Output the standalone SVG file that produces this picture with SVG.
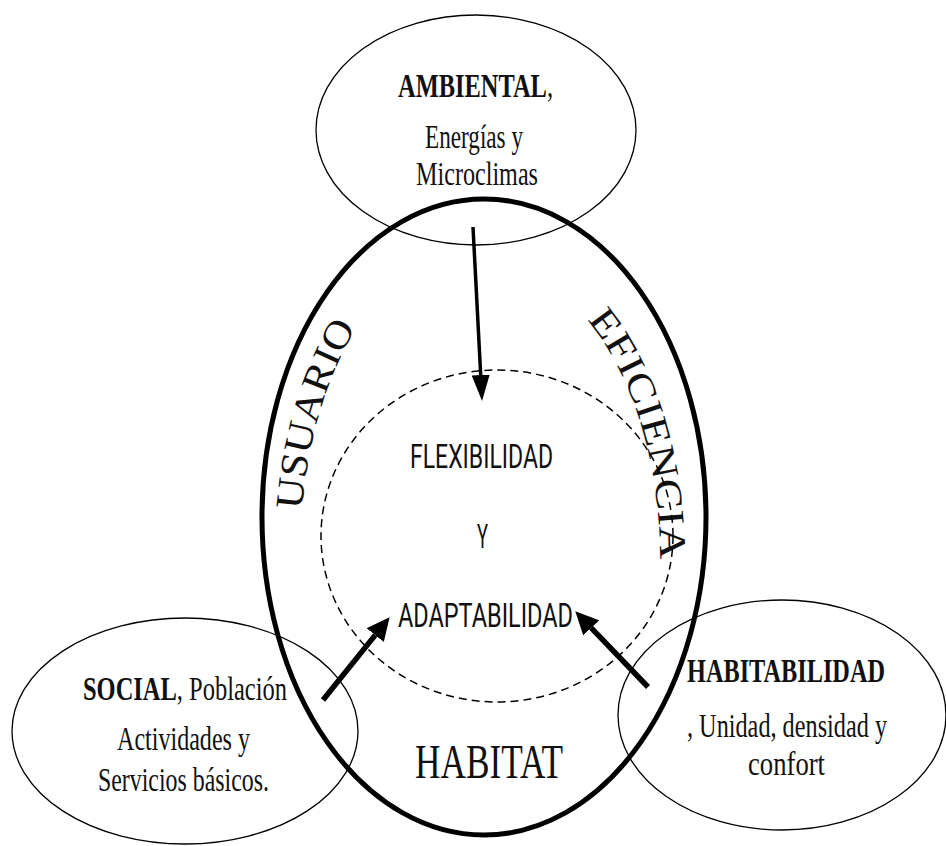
<svg xmlns="http://www.w3.org/2000/svg" width="946" height="846" viewBox="0 0 946 846">
<style>
.thin{fill:none;stroke:#000;stroke-width:1.3}
.serif{font-family:"Liberation Serif","Times New Roman",serif;fill:#111;font-size:33px}
.sans{font-family:Roboto,"Liberation Sans",sans-serif;fill:#111;font-size:33px}
.arrow{stroke:#000;fill:none}
</style>
<defs>
<marker id="headS" markerUnits="userSpaceOnUse" markerWidth="26" markerHeight="18" viewBox="0 0 26 18" refX="0" refY="9" orient="auto"><path d="M0,0 L26,9 L0,18 z" fill="#000"/></marker>
<marker id="headL" markerUnits="userSpaceOnUse" markerWidth="23" markerHeight="22" viewBox="0 0 23 22" refX="0" refY="11" orient="auto"><path d="M0,0 L23,11 L0,22 z" fill="#000"/></marker>
<path id="pUsuario" d="M 302 510 A 200 320 0 0 1 358 325"/>
<path id="pEficiencia" d="M 587 320 A 170 290 0 0 1 660 565"/>
</defs>
<rect width="946" height="846" fill="#fff"/>

<g id="habitat">
<ellipse cx="484" cy="517" rx="222" ry="318" fill="none" stroke="#000" stroke-width="5"/>
<text class="serif" x="415" y="778" style="font-size:48px" textLength="148" lengthAdjust="spacingAndGlyphs">HABITAT</text>
<text class="serif" style="font-size:39px"><textPath href="#pUsuario" textLength="192" lengthAdjust="spacingAndGlyphs">USUARIO</textPath></text>
<text class="serif" style="font-size:38px"><textPath href="#pEficiencia" textLength="255" lengthAdjust="spacingAndGlyphs">EFICIENCIA</textPath></text>
</g>

<g id="centro">
<ellipse cx="497" cy="536" rx="176" ry="166" fill="none" stroke="#000" stroke-width="1.5" stroke-dasharray="8 5"/>
<text class="sans" x="410" y="468" textLength="143" lengthAdjust="spacingAndGlyphs">FLEXIBILIDAD</text>
<text class="sans" x="477" y="548" textLength="11" lengthAdjust="spacingAndGlyphs">Y</text>
<text class="sans" x="398" y="627" textLength="175" lengthAdjust="spacingAndGlyphs">ADAPTABILIDAD</text>
</g>

<g id="ambiental">
<ellipse class="thin" cx="476" cy="130" rx="160" ry="115"/>
<text class="serif" x="398" y="97" font-weight="bold" textLength="155" lengthAdjust="spacingAndGlyphs">AMBIENTAL<tspan font-weight="normal">,</tspan></text>
<text class="serif" x="425" y="148" textLength="98" lengthAdjust="spacingAndGlyphs">Energías y</text>
<text class="serif" x="416" y="185" textLength="122" lengthAdjust="spacingAndGlyphs">Microclimas</text>
</g>

<g id="social">
<ellipse class="thin" cx="185" cy="731" rx="173" ry="113"/>
<text class="serif" x="83" y="700" textLength="204" lengthAdjust="spacingAndGlyphs"><tspan font-weight="bold">SOCIAL</tspan>, Población</text>
<text class="serif" x="117" y="750" textLength="133" lengthAdjust="spacingAndGlyphs">Actividades y</text>
<text class="serif" x="98" y="791" textLength="171" lengthAdjust="spacingAndGlyphs">Servicios básicos.</text>
</g>

<g id="habitabilidad">
<ellipse class="thin" cx="782" cy="715" rx="164" ry="115"/>
<text class="serif" x="687" y="682" font-weight="bold" textLength="198" lengthAdjust="spacingAndGlyphs">HABITABILIDAD</text>
<text class="serif" x="687" y="737" textLength="200" lengthAdjust="spacingAndGlyphs">, Unidad, densidad y</text>
<text class="serif" x="748" y="775" textLength="77" lengthAdjust="spacingAndGlyphs">confort</text>
</g>

<g id="connectors">
<line class="arrow" x1="473" y1="227" x2="480.7" y2="375" stroke-width="3.5" marker-end="url(#headS)"/>
<line class="arrow" x1="323" y1="700" x2="375.2" y2="635.1" stroke-width="5.5" marker-end="url(#headL)"/>
<line class="arrow" x1="648" y1="687" x2="591.2" y2="627.9" stroke-width="5.5" marker-end="url(#headL)"/>
</g>
</svg>
